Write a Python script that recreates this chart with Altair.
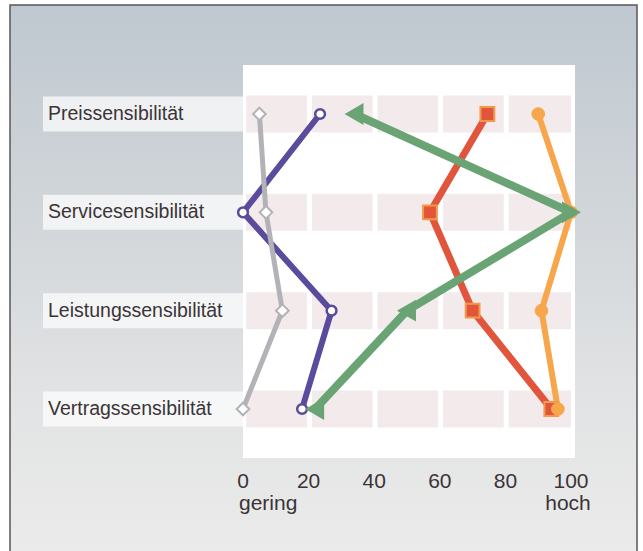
import altair as alt
import pandas as pd

categories = ["Preissensibilität", "Servicesensibilität", "Leistungssensibilität", "Vertragssensibilität"]
grey_vals = [5, 7, 12, 0]
purple_vals = [23.5, 0, 27, 18]
green_vals = [34, 100, 50, 22]
red_vals = [74.5, 57, 70, 94]
orange_vals = [90, 100, 91, 96]
tick_values = [0, 20, 40, 60, 80, 100]
cell_starts = [1, 21, 41, 61, 81]
cell_ends = [19.5, 39.5, 59.5, 79.5, 100]

xs = alt.Scale(domain=[0, 100], range=[243, 571])
ys = alt.Scale(type="point", domain=categories, range=[114, 409], padding=0)

FONT = "Liberation Sans"
TXT = "#3b3437"


def series_df(vals):
    return pd.DataFrame({"cat": categories, "v": vals, "idx": list(range(len(categories)))})


one = alt.Data(values=[{"a": 1}])

bg_grad = alt.LinearGradient(
    gradient="linear",
    stops=[
        alt.GradientStop(color="#bfc8d0", offset=0),
        alt.GradientStop(color="#d0d5d9", offset=0.35),
        alt.GradientStop(color="#e2e3e4", offset=0.7),
        alt.GradientStop(color="#ececec", offset=1),
    ],
    x1=0, x2=0, y1=0, y2=1,
)

background = alt.Chart(one).mark_rect(fill=bg_grad, stroke="#5a5558", strokeWidth=1.5).encode(
    x=alt.value(10), x2=alt.value(637), y=alt.value(5), y2=alt.value(570)
)

panel = alt.Chart(one).mark_rect(fill="white").encode(
    x=alt.value(243), x2=alt.value(575), y=alt.value(65), y2=alt.value(458)
)

# label boxes
label_box = alt.Chart(pd.DataFrame({"cat": categories})).mark_rule(
    color="white", opacity=0.7, strokeWidth=35, strokeCap="butt"
).encode(
    y=alt.Y("cat:N", scale=ys, axis=None, sort=categories),
    x=alt.value(43), x2=alt.value(243),
)

# pink cells
cells_rows = []
for c in categories:
    for s, e in zip(cell_starts, cell_ends):
        cells_rows.append({"cat": c, "s": s, "e": e})
cells = alt.Chart(pd.DataFrame(cells_rows)).mark_rule(
    color="#f2eaeb", strokeWidth=37, strokeCap="butt"
).encode(
    y=alt.Y("cat:N", scale=ys, axis=None, sort=categories),
    x=alt.X("s:Q", scale=xs, axis=None),
    x2="e:Q",
)

cat_labels = alt.Chart(pd.DataFrame({"cat": categories})).mark_text(
    align="left", baseline="middle", font=FONT, fontSize=19.5, color=TXT
).encode(
    y=alt.Y("cat:N", scale=ys, axis=None, sort=categories),
    x=alt.value(48),
    text="cat:N",
)

tick_labels = alt.Chart(pd.DataFrame({"t": tick_values})).mark_text(
    align="center", baseline="middle", font=FONT, fontSize=21, color=TXT
).encode(
    x=alt.X("t:Q", scale=xs, axis=None),
    y=alt.value(482),
    text="t:Q",
)

gering = alt.Chart(pd.DataFrame({"t": [0], "lbl": ["gering"]})).mark_text(
    align="left", baseline="middle", font=FONT, fontSize=21, color=TXT, dx=-4
).encode(x=alt.X("t:Q", scale=xs, axis=None), y=alt.value(504), text="lbl:N")

hoch = alt.Chart(pd.DataFrame({"t": [100], "lbl": ["hoch"]})).mark_text(
    align="center", baseline="middle", font=FONT, fontSize=21, color=TXT, dx=-3
).encode(x=alt.X("t:Q", scale=xs, axis=None), y=alt.value(504), text="lbl:N")


def line(vals, color, width):
    return alt.Chart(series_df(vals)).mark_line(color=color, strokeWidth=width, strokeJoin="miter").encode(
        x=alt.X("v:Q", scale=xs, axis=None),
        y=alt.Y("cat:N", scale=ys, axis=None, sort=categories),
        order="idx:Q",
    )


def points(vals, **kw):
    return alt.Chart(series_df(vals)).mark_point(filled=True, opacity=1, fillOpacity=1, **kw).encode(
        x=alt.X("v:Q", scale=xs, axis=None),
        y=alt.Y("cat:N", scale=ys, axis=None, sort=categories),
    )


GREY = "#b3b2b6"
PURPLE = "#5a4b9c"
GREEN = "#6aa474"
RED = "#e2553d"
ORANGE = "#f7a64c"

lines = [
    line(purple_vals, PURPLE, 6),
    line(grey_vals, GREY, 5),
    line(red_vals, RED, 7),
    line(orange_vals, ORANGE, 6),
    line(green_vals, GREEN, 8),
]

gdf = series_df(green_vals)
green_left = alt.Chart(gdf).transform_filter(alt.datum.cat != "Servicesensibilität").mark_point(
    filled=True, opacity=1, shape="triangle-left", size=340, fill=GREEN, stroke=GREEN
).encode(x=alt.X("v:Q", scale=xs, axis=None), y=alt.Y("cat:N", scale=ys, axis=None, sort=categories))
green_right = alt.Chart(gdf).transform_filter(alt.datum.cat == "Servicesensibilität").mark_point(
    filled=True, opacity=1, shape="triangle-right", size=340, fill=GREEN, stroke=GREEN
).encode(x=alt.X("v:Q", scale=xs, axis=None), y=alt.Y("cat:N", scale=ys, axis=None, sort=categories))

pts = [
    points(purple_vals, shape="circle", size=95, fill="white", stroke=PURPLE, strokeWidth=2.5),
    points(grey_vals, shape="diamond", size=160, fill="white", stroke=GREY, strokeWidth=2),
    points(red_vals, shape="square", size=190, fill=RED, stroke="#f39a4a", strokeWidth=2),
    points(orange_vals, shape="circle", size=160, fill=ORANGE, stroke=ORANGE, strokeWidth=1),
    green_left,
    green_right,
]

chart = alt.layer(
    background, panel, label_box, cells, cat_labels, tick_labels, gering, hoch, *lines, *pts
).properties(
    width=643, height=551, autosize=alt.AutoSizeParams(type="none"), padding=0, background="white"
).configure_view(stroke=None)

chart.save("out.html", embed_options={"renderer": "svg", "actions": False})
